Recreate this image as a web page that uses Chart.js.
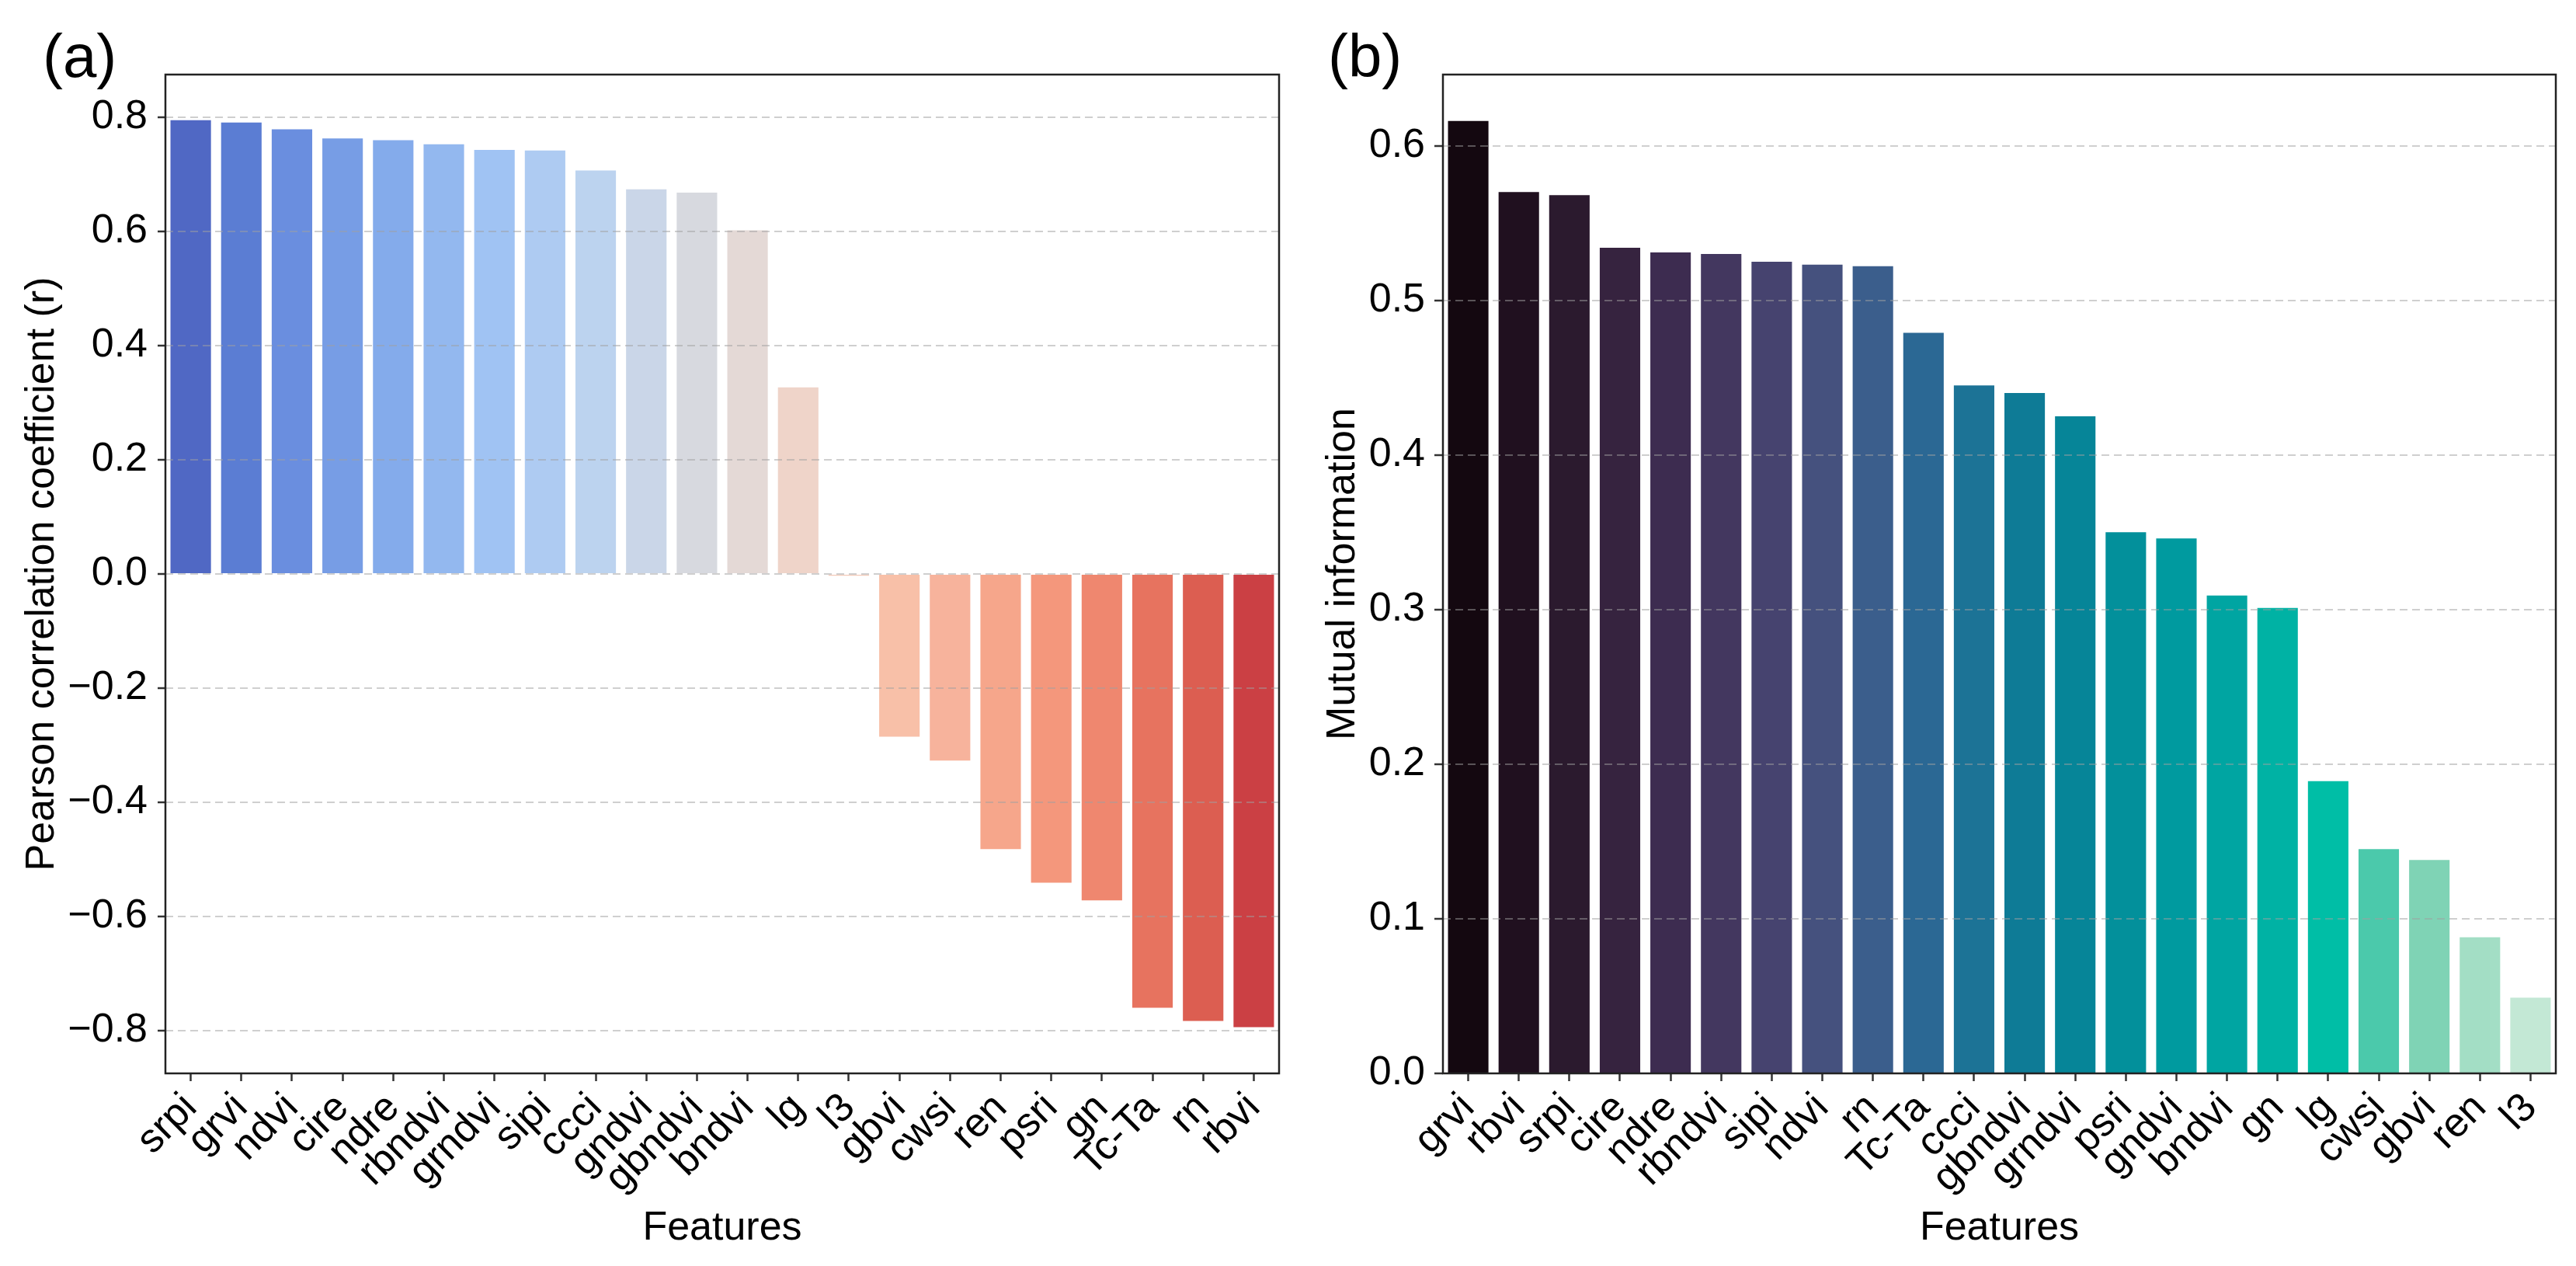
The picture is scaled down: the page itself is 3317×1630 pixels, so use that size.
<!DOCTYPE html>
<html>
<head>
<meta charset="utf-8">
<title>Feature correlation and mutual information</title>
<script src="https://cdn.jsdelivr.net/npm/chart.js"></script>
<style>
  html, body { margin: 0; padding: 0; background: #fff; }
  body { width: 3317px; height: 1630px; position: relative; overflow: hidden; }
  canvas { position: absolute; top: 0; }
  #chartA { left: 0; }
  #chartB { left: 1660px; }
</style>
</head>
<body>
<canvas id="chartA" width="1660" height="1630"></canvas>
<canvas id="chartB" width="1657" height="1630"></canvas>
<script>
// (a) Pearson correlation of each feature
const corrFeatures = ['srpi', 'grvi', 'ndvi', 'cire', 'ndre', 'rbndvi', 'grndvi', 'sipi', 'ccci', 'gndvi', 'gbndvi',
  'bndvi', 'lg', 'l3', 'gbvi', 'cwsi', 'ren', 'psri', 'gn', 'Tc-Ta', 'rn', 'rbvi'];
const corrValues = [0.795, 0.791, 0.779, 0.763, 0.760, 0.753, 0.743, 0.742, 0.707, 0.674, 0.668,
  0.602, 0.327, -0.003, -0.285, -0.327, -0.482, -0.541, -0.572, -0.760, -0.783, -0.794];
const corrColors = ['#5068C4', '#5B7DD3', '#6A8EDF', '#779DE5', '#84ABEB', '#93B8EF', '#A0C3F3', '#AECBF2', '#BCD3EF',
  '#CAD6E8', '#D7D9DF', '#E4D9D6', '#EFD4C9', '#F4C9B7', '#F8C0A8', '#F7B39C', '#F6A68B', '#F4977C', '#EF876F',
  '#E7735F', '#DC5E51', '#CB4044'];

// (b) mutual information of each feature
const miFeatures = ['grvi', 'rbvi', 'srpi', 'cire', 'ndre', 'rbndvi', 'sipi', 'ndvi', 'rn', 'Tc-Ta', 'ccci',
  'gbndvi', 'grndvi', 'psri', 'gndvi', 'bndvi', 'gn', 'lg', 'cwsi', 'gbvi', 'ren', 'l3'];
const miValues = [0.616, 0.570, 0.568, 0.534, 0.531, 0.530, 0.525, 0.523, 0.522, 0.479, 0.445,
  0.440, 0.425, 0.350, 0.346, 0.309, 0.301, 0.189, 0.145, 0.138, 0.088, 0.049];
const miColors = ['#140810', '#20101F', '#2B1A2E', '#36233F', '#3D2C50', '#43375F', '#46436F', '#45517E', '#3B5E8C',
  '#2B6894', '#1C7396', '#0E7B96', '#068598', '#03909B', '#009A9F', '#00A5A2', '#00B2A4', '#00BEA6', '#4BC9AB',
  '#7FD3B5', '#A3DEC5', '#C3E8D5'];

Chart.defaults.font.family = '"Liberation Sans", Arial, sans-serif';
Chart.defaults.color = '#000';

function fmt(v) {
  const s = Math.abs(v).toFixed(1);
  return v < -1e-9 ? '\u2212' + s : s;
}

// box around the plot area and the panel letter
const framePlugin = {
  id: 'frame',
  afterDraw(chart, args, opts) {
    const { ctx, chartArea: a } = chart;
    ctx.save();
    ctx.strokeStyle = '#222';
    ctx.lineWidth = 2.5;
    ctx.strokeRect(a.left, a.top, a.right - a.left, a.bottom - a.top);
    ctx.fillStyle = '#000';
    ctx.font = '78px "Liberation Sans", Arial, sans-serif';
    ctx.textBaseline = 'alphabetic';
    ctx.fillText(opts.letter, opts.x, opts.y);
    ctx.restore();
  }
};

function barChart(id, labels, values, colors, cfg) {
  return new Chart(document.getElementById(id), {
    type: 'bar',
    data: {
      labels: labels,
      datasets: [{
        data: values,
        backgroundColor: colors,
        borderWidth: 0,
        barPercentage: 0.8,
        categoryPercentage: 1.0
      }]
    },
    options: {
      responsive: false,
      animation: false,
      devicePixelRatio: 1,
      layout: { padding: { left: 0, top: 96, right: cfg.padRight, bottom: 0 } },
      plugins: {
        legend: { display: false },
        tooltip: { enabled: false },
        frame: { letter: cfg.letter, x: cfg.letterX, y: 99 }
      },
      scales: {
        x: {
          grid: { display: true, drawOnChartArea: false, drawTicks: true, offset: false,
                  tickLength: 10, tickColor: '#333', tickWidth: 2.5 },
          border: { display: false },
          ticks: { autoSkip: false, maxRotation: 45, minRotation: 45, padding: 4, font: { size: 52 } },
          title: { display: true, text: 'Features', font: { size: 52 }, padding: { top: 0, bottom: 17 } },
          afterFit(s) { s.height = 248; s.paddingLeft = 0; s.paddingRight = 0; }
        },
        y: {
          min: cfg.min,
          max: cfg.max,
          grid: { color: 'rgba(160,160,160,0.5)', lineWidth: 2, z: 1,
                  tickLength: cfg.tickLen, tickColor: '#333', tickWidth: 2.5 },
          border: { display: false, dash: [10, 6] },
          ticks: { stepSize: cfg.step, includeBounds: false, padding: cfg.tickPad, font: { size: 52 }, callback: fmt },
          title: { display: true, text: cfg.yTitle, font: { size: 52 }, padding: { top: cfg.titlePad, bottom: 0 } },
          afterFit(s) { s.width = cfg.yWidth; s.paddingTop = 0; s.paddingBottom = 0; }
        }
      }
    },
    plugins: [framePlugin]
  });
}

barChart('chartA', corrFeatures, corrValues, corrColors, {
  min: -0.875, max: 0.875, step: 0.2, yTitle: 'Pearson correlation coefficient (r)',
  yWidth: 213, padRight: 13, tickLen: 10, tickPad: 13, titlePad: 23, letter: '(a)', letterX: 55
});

barChart('chartB', miFeatures, miValues, miColors, {
  min: 0, max: 0.646, step: 0.1, yTitle: 'Mutual information',
  yWidth: 198, padRight: 26, tickLen: 11, tickPad: 12, titlePad: 38, letter: '(b)', letterX: 50
});
</script>
</body>
</html>
